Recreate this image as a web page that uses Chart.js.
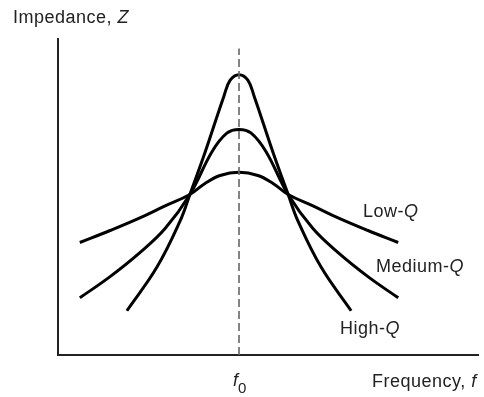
<!DOCTYPE html>
<html>
<head>
<meta charset="utf-8">
<script src="https://cdn.jsdelivr.net/npm/chart.js@4/dist/chart.umd.min.js"></script>
<style>
  html, body { margin: 0; padding: 0; background: #fff; }
</style>
</head>
<body>
<canvas id="myChart" width="484" height="397"></canvas>
<script>
// frequency (arbitrary units, 0..100) and impedance (0..100)
var f0 = 43.1;
var lowFreq  = [5.2, 12.4, 19.5, 25.5, 31.4, 35.0, 38.6, 43.1, 47.6, 51.2, 54.8, 60.7, 66.7, 73.8, 81.0];
var lowZ     = [35.6, 39.4, 43.4, 47.2, 50.8, 54.3, 56.8, 57.8, 56.8, 54.3, 50.8, 47.2, 43.4, 39.4, 35.6];
var medFreq  = [5.2, 12.4, 19.5, 25.5, 31.4, 36.7, 40.2, 43.1, 46.0, 49.5, 54.8, 60.7, 66.7, 73.8, 81.0];
var medZ     = [18.1, 24.8, 32.4, 40.0, 50.8, 64.4, 70.2, 71.4, 70.2, 64.4, 50.8, 40.0, 32.4, 24.8, 18.1];
var highFreq = [16.4, 23.6, 29.0, 31.4, 35.0, 39.5, 41.0, 43.1, 45.2, 46.7, 51.2, 54.8, 57.2, 62.6, 69.8];
var highZ    = [14.0, 27.9, 42.2, 50.8, 64.1, 81.9, 87.0, 88.7, 87.0, 81.9, 64.1, 50.8, 42.2, 27.9, 14.0];
var markerZ  = [0, 97];

function toPoints(xs, ys) {
  var pts = [];
  for (let i = 0; i < xs.length; i++) {
    pts.push({x: xs[i], y: ys[i]});
  }
  return pts;
}

function curve(xs, ys) {
  return {
    data: toPoints(xs, ys),
    showLine: true,
    borderColor: '#000',
    borderWidth: 3,
    pointRadius: 0,
    tension: 0.4
  };
}

var FONT = 'Liberation Sans, Arial, sans-serif';

// draw a run of text pieces, some italic, left to right
function drawRun(ctx, parts, x, y, size) {
  ctx.letterSpacing = '0.5px';
  for (let i = 0; i < parts.length; i++) {
    ctx.font = (parts[i][1] ? 'italic ' : '') + size + 'px ' + FONT;
    ctx.fillText(parts[i][0], x, y);
    x += ctx.measureText(parts[i][0]).width;
  }
}

var labelPlugin = {
  id: 'labels',
  afterDraw: function(chart) {
    var ctx = chart.ctx;
    var xs = chart.scales.x;
    ctx.save();
    ctx.fillStyle = '#222';
    ctx.textBaseline = 'alphabetic';
    ctx.textAlign = 'left';
    drawRun(ctx, [['Impedance, ', false], ['Z', true]], 13, 23, 18);
    drawRun(ctx, [['Low-', false], ['Q', true]], 363, 217, 18);
    drawRun(ctx, [['Medium-', false], ['Q', true]], 376, 272, 18);
    drawRun(ctx, [['High-', false], ['Q', true]], 340, 334, 18);
    drawRun(ctx, [['Frequency, ', false], ['f', true]], 372, 387, 18);
    var px = xs.getPixelForValue(f0);
    ctx.letterSpacing = '0px';
    ctx.font = 'italic 18px ' + FONT;
    ctx.fillText('f', px - 6, 386);
    ctx.font = '15px ' + FONT;
    ctx.fillText('0', px - 1, 393);
    ctx.restore();
  }
};

var config = {
  type: 'scatter',
  data: {
    datasets: [
      {
        data: toPoints([f0, f0], markerZ),
        showLine: true,
        borderColor: '#666',
        borderWidth: 1.6,
        borderDash: [8, 4],
        pointRadius: 0
      },
      curve(lowFreq, lowZ),
      curve(medFreq, medZ),
      curve(highFreq, highZ)
    ]
  },
  options: {
    responsive: false,
    animation: false,
    layout: { padding: { left: 58, right: 6, top: 39, bottom: 42 } },
    plugins: { legend: { display: false }, tooltip: { enabled: false } },
    scales: {
      x: {
        type: 'linear', min: 0, max: 100,
        grid: { display: false },
        ticks: { display: false },
        border: { color: '#222', width: 2 },
        afterFit: function(s) { s.height = 0; }
      },
      y: {
        type: 'linear', min: 0, max: 100,
        grid: { display: false },
        ticks: { display: false },
        border: { color: '#222', width: 2 },
        afterFit: function(s) { s.width = 0; }
      }
    }
  },
  plugins: [labelPlugin]
};

var myChart = new Chart(document.getElementById('myChart'), config);
</script>
</body>
</html>
